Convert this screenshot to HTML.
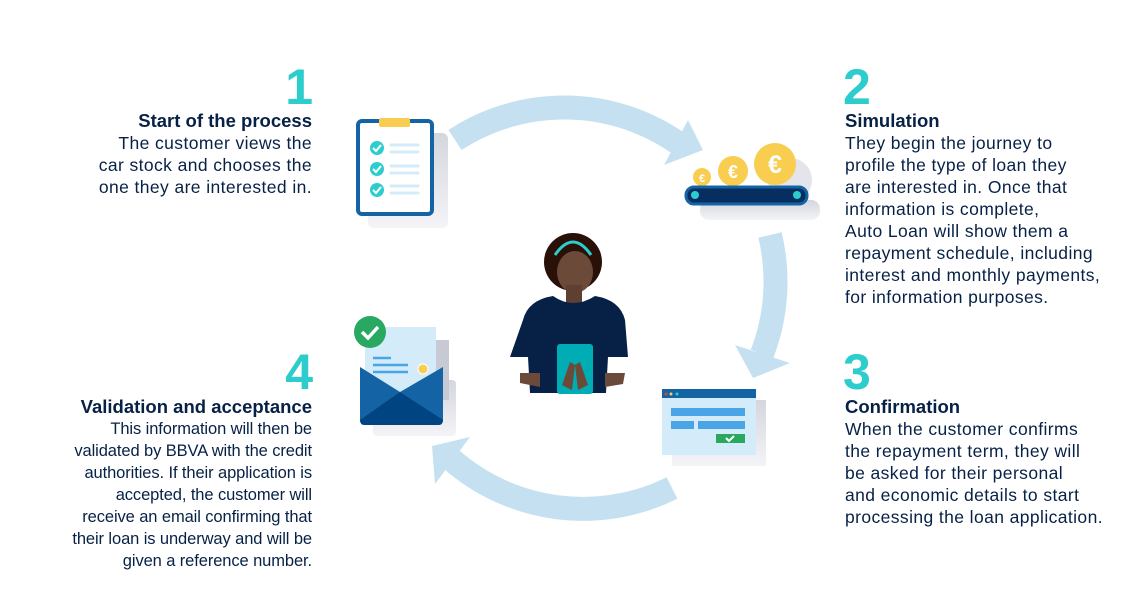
<!DOCTYPE html>
<html><head><meta charset="utf-8"><style>
body{margin:0;background:#fff;width:1145px;height:609px;overflow:hidden;position:relative;font-family:"Liberation Sans",sans-serif;color:#072146}
.n{position:absolute;font-weight:bold;font-size:50px;color:#2dcccd;line-height:1}
.b{position:absolute;font-size:16.5px;line-height:22px;letter-spacing:-0.1px}
.b b{display:block;font-size:18.5px;letter-spacing:0}
.rt{font-size:17.5px;letter-spacing:0.4px}
.r{text-align:right}
</style></head><body>
<svg width="1145" height="609" style="position:absolute;left:0;top:0">
<defs><linearGradient id="shv" x1="0" y1="0" x2="0" y2="1"><stop offset="0" stop-color="#d4d6de"/><stop offset="1" stop-color="#f4f4f7"/></linearGradient></defs>
<g fill="none" stroke="#c5e1f1" stroke-width="24">
<path d="M455,140 A200 200 0 0 1 678,143"/>
<path d="M770,235 A200 200 0 0 1 762,354"/>
<path d="M672,488 A200 200 0 0 1 452,460"/>
</g>
<g fill="#c5e1f1">
<polygon points="688,120 703,150 664,165"/>
<polygon points="735,345 790,363 753,378"/>
<polygon points="470,437 432,446 435,484"/>
</g>
<rect x="368" y="133" width="80" height="95" rx="6" fill="url(#shv)"/>
<rect x="358" y="121" width="74" height="93" rx="4" fill="#fff" stroke="#1464a5" stroke-width="4"/>
<rect x="379" y="118" width="31" height="9" rx="2" fill="#f8cd50"/>
<g fill="#2dcccd"><circle cx="377" cy="148" r="7"/><circle cx="377" cy="169" r="7"/><circle cx="377" cy="190" r="7"/></g>
<g stroke="#fff" stroke-width="2" fill="none"><path d="M373,148 l3,3 l5,-6"/><path d="M373,169 l3,3 l5,-6"/><path d="M373,190 l3,3 l5,-6"/></g>
<g stroke="#d4ecfa" stroke-width="3" stroke-linecap="round"><path d="M391,145h27M391,152h27M391,166h27M391,173h27M391,186h27M391,193h27"/></g>
<rect x="700" y="200" width="120" height="20" rx="9" fill="url(#shv)"/>
<ellipse cx="790" cy="180" rx="22" ry="22" fill="#e4e5ea"/>
<circle cx="702" cy="177" r="9" fill="#f8cd50"/><circle cx="733" cy="171" r="15" fill="#f8cd50"/><circle cx="775" cy="164" r="21" fill="#f8cd50"/>
<g fill="#fff" font-family="Liberation Sans" font-weight="bold" text-anchor="middle"><text x="702" y="182" font-size="11">€</text><text x="733" y="178" font-size="18">€</text><text x="775" y="173" font-size="25">€</text></g>
<rect x="686" y="187" width="121" height="17" rx="8" fill="#072e61" stroke="#1464a5" stroke-width="3"/>
<circle cx="695" cy="195" r="4" fill="#2dcccd"/><circle cx="797" cy="195" r="4" fill="#2dcccd"/>
<circle cx="573" cy="262" r="29" fill="#2a1107"/>
<path d="M555,255 q18,-26 36,0" fill="none" stroke="#2dcccd" stroke-width="3"/>
<ellipse cx="575" cy="272" rx="18" ry="21" fill="#6b4a3a"/>
<rect x="566" y="285" width="16" height="22" fill="#5e3f31"/>
<path d="M523,320 q5,-20 30,-24 q20,14 42,0 q25,4 30,24 l3,37 h-20 l-2,36 h-76 l-2,-36 h-18 z" fill="#072146"/>
<path d="M520,373 l20,0 l0,14 l-20,-4z M605,373 l20,0 l-2,11 l-18,3z" fill="#6b4a3a"/>
<rect x="557" y="344" width="36" height="50" rx="3" fill="#00adb5"/>
<path d="M562,385 l8,-23 l5,3 l-3,25z M588,385 l-8,-23 l-5,3 l3,25z" fill="#6b4a3a"/>
<rect x="373" y="380" width="83" height="56" rx="4" fill="url(#shv)"/>
<rect x="435" y="340" width="14" height="60" fill="#c8cad3"/>
<rect x="365" y="327" width="71" height="70" fill="#d4ecfa"/>
<g stroke="#49a5e6" stroke-width="2.5"><path d="M373,358h18M373,365h35M373,372h35"/></g>
<circle cx="423" cy="369" r="5" fill="#f8cd50" stroke="#fff" stroke-width="1"/>
<path d="M360,367 L400,392 L443,367 V420 q0,5 -5,5 H365 q-5,0 -5,-5z" fill="#1464a5"/>
<path d="M360,420 L400,392 L443,420 q0,5 -5,5 H365 q-5,0 -5,-5z" fill="#004481"/>
<circle cx="370" cy="332" r="16" fill="#28a861"/>
<path d="M362,332 l6,6 l10,-11" fill="none" stroke="#fff" stroke-width="3.5"/>
<rect x="672" y="400" width="94" height="66" fill="url(#shv)"/>
<rect x="662" y="389" width="94" height="66" fill="#d4ecfa"/>
<rect x="662" y="389" width="94" height="9" fill="#1464a5"/>
<circle cx="666" cy="394" r="1.5" fill="#e04040"/><circle cx="671" cy="394" r="1.5" fill="#f8cd50"/><circle cx="677" cy="394" r="1.5" fill="#2dcccd"/>
<rect x="671" y="408" width="74" height="8" fill="#49a5e6"/>
<rect x="671" y="421" width="23" height="8" fill="#49a5e6"/><rect x="698" y="421" width="47" height="8" fill="#49a5e6"/>
<rect x="716" y="434" width="29" height="9" fill="#28a861"/>
<path d="M726,438 l3,3 l5,-5" fill="none" stroke="#fff" stroke-width="2"/>
</svg>

<div class="n" style="right:832px;top:62px">1</div>
<div class="b r rt" style="right:833px;top:110px"><b>Start of the process</b>The customer views the<br>car stock and chooses the<br>one they are interested in.</div>

<div class="n" style="left:843px;top:62px">2</div>
<div class="b rt" style="left:845px;top:110px"><b>Simulation</b>They begin the journey to<br>profile the type of loan they<br>are interested in. Once that<br>information is complete,<br>Auto Loan will show them a<br>repayment schedule, including<br>interest and monthly payments,<br>for information purposes.</div>

<div class="n" style="left:843px;top:347px">3</div>
<div class="b rt" style="left:845px;top:396px"><b>Confirmation</b>When the customer confirms<br>the repayment term, they will<br>be asked for their personal<br>and economic details to start<br>processing the loan application.</div>

<div class="n" style="right:832px;top:347px">4</div>
<div class="b r" style="right:833px;top:396px"><b>Validation and acceptance</b>This information will then be<br>validated by BBVA with the credit<br>authorities. If their application is<br>accepted, the customer will<br>receive an email confirming that<br>their loan is underway and will be<br>given a reference number.</div>
</body></html>
